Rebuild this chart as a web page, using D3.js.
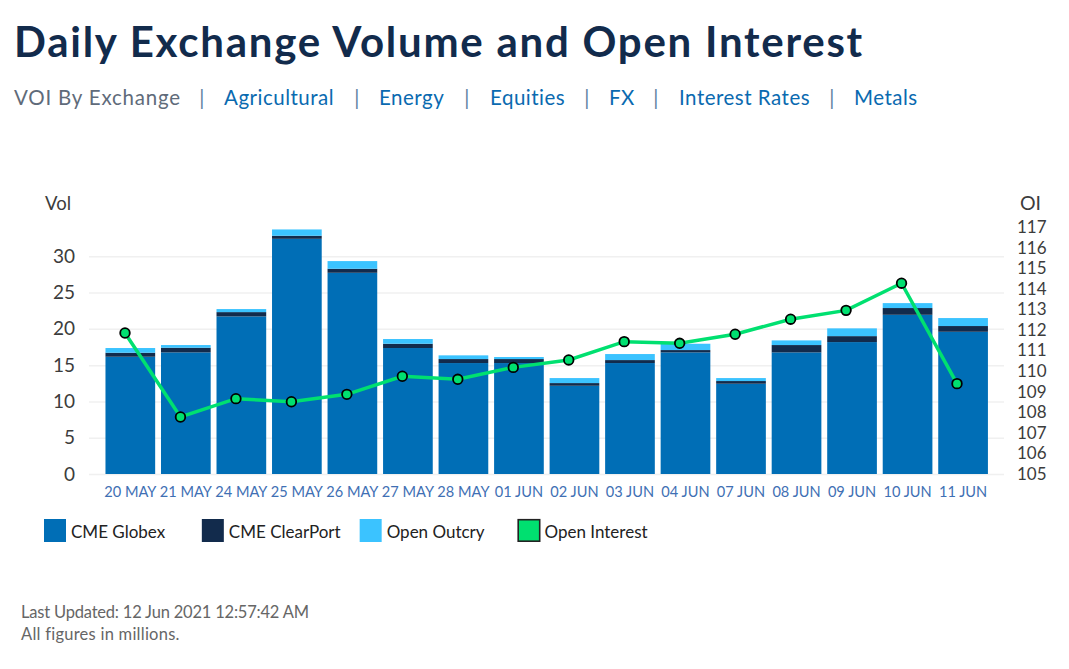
<!DOCTYPE html>
<html>
<head>
<meta charset="utf-8">
<script src="https://cdn.jsdelivr.net/npm/d3@7"></script>
<style>
  body { margin: 0; background: white; }
  svg { display: block; font-family: Lato, sans-serif; }
  .grid line { stroke: #f0f0f0; stroke-width: 1.5; }
  .grid path { display: none; }
  .axis path, .axis line { display: none; }
  .axis text { font-family: Lato, sans-serif; font-size: 19px; fill: #3c3c3c; }
  .oiaxis text { font-size: 17px; }
  .xaxis text { font-size: 14.6px; fill: #3f70b4; }
</style>
</head>
<body>
<div id="chart"></div>
<script>
const dates = ["20 MAY","21 MAY","24 MAY","25 MAY","26 MAY","27 MAY","28 MAY","01 JUN","02 JUN","03 JUN","04 JUN","07 JUN","08 JUN","09 JUN","10 JUN","11 JUN"];
const globex = [16.16,16.76,21.72,32.41,27.73,17.36,15.29,15.29,12.16,15.29,16.76,12.44,16.76,18.18,21.94,19.6];
const clearPort = [0.55,0.64,0.59,0.42,0.55,0.59,0.55,0.55,0.37,0.41,0.32,0.37,1.01,0.82,0.93,0.79];
const outcry = [0.65,0.37,0.42,0.87,1.06,0.65,0.51,0.28,0.69,0.83,0.87,0.41,0.64,1.07,0.68,1.1];
const openInterest = [111.85,107.77,108.66,108.51,108.87,109.75,109.6,110.18,110.54,111.43,111.35,111.79,112.52,112.95,114.27,109.39];

const volTicks = [0,5,10,15,20,25,30];
const oiTicks = [105,106,107,108,109,110,111,112,113,114,115,116,117];
const navItems = ["Agricultural","Energy","Equities","FX","Interest Rates","Metals"];
const seriesNames = ["CME Globex","CME ClearPort","Open Outcry"];
const seriesColors = ["#006eb6","#122b4c","#3bc3ff"];
const greenLine = "#00e070";

const width = 1069, height = 669;
const svg = d3.select("#chart").append("svg").attr("width", width).attr("height", height);

// header
svg.append("text").attr("x", 14).attr("y", 57)
  .attr("font-size", 42).attr("font-weight", 700).attr("letter-spacing", 1.75)
  .attr("fill", "#122b4c").text("Daily Exchange Volume and Open Interest");

const navX = [224,379,490,609,679,854];
const sepX = [202,357,467,587,656,832];
const nav = svg.append("g").attr("font-size", 20.5).attr("letter-spacing", 0.5);
nav.append("text").attr("x", 14).attr("y", 105).attr("letter-spacing", 0.8).attr("fill", "#5f6b7a").text("VOI By Exchange");
navItems.forEach((d, i) => {
  nav.append("text").attr("x", sepX[i]).attr("y", 105).attr("text-anchor", "middle").attr("fill", "#5f7f9f").text("|");
  nav.append("text").attr("x", navX[i]).attr("y", 105).attr("fill", "#0a6ab0").text(d);
});

// scales
const x = d3.scaleBand().domain(dates).range([102.7, 990.7]).paddingInner(0.105).paddingOuter(0.05);
const xLine = d3.scalePoint().domain(dates).range([125, 957]);
const y = d3.scaleLinear().domain([0, 30]).range([474, 256.3]);
const yOi = d3.scaleLinear().domain([105, 117]).range([474, 227]);

// gridlines
svg.append("g").attr("class", "grid")
  .attr("transform", "translate(89,0)")
  .call(d3.axisLeft(y).tickValues(volTicks).tickSize(-915).tickFormat(""));

// stacked bars
const rows = dates.map((d, i) => ({ date: d, g: globex[i], c: clearPort[i], o: outcry[i] }));
const stacked = d3.stack().keys(["g","c","o"])(rows);
svg.append("g").selectAll("g").data(stacked).join("g")
  .attr("fill", (d, i) => seriesColors[i])
  .selectAll("rect").data(d => d).join("rect")
  .attr("x", d => x(d.data.date))
  .attr("y", d => y(d[1]))
  .attr("width", x.bandwidth())
  .attr("height", d => y(d[0]) - y(d[1]));

// open interest line
const line = d3.line().x((d, i) => xLine(dates[i])).y(d => yOi(d));
svg.append("path").datum(openInterest)
  .attr("fill", "none").attr("stroke", greenLine).attr("stroke-width", 3.5)
  .attr("d", line);
svg.append("g").selectAll("circle").data(openInterest).join("circle")
  .attr("cx", (d, i) => xLine(dates[i]))
  .attr("cy", d => yOi(d))
  .attr("r", 4.8)
  .attr("fill", greenLine).attr("stroke", "#000").attr("stroke-width", 1.8);

// axes
svg.append("g").attr("class", "axis")
  .attr("transform", "translate(75,0)")
  .call(d3.axisLeft(y).tickValues(volTicks).tickSize(0).tickPadding(0));
svg.append("g").attr("class", "axis oiaxis")
  .attr("transform", "translate(1017,0)")
  .call(d3.axisRight(yOi).tickValues(oiTicks).tickSize(0).tickPadding(0));
svg.append("g").attr("class", "axis xaxis")
  .attr("transform", "translate(0,474)")
  .call(d3.axisBottom(x).tickSize(0).tickPadding(13));

svg.append("text").attr("x", 45).attr("y", 210).attr("font-size", 18.5).attr("fill", "#3c3c3c").text("Vol");
svg.append("text").attr("x", 1020).attr("y", 210).attr("font-size", 19.5).attr("fill", "#3c3c3c").text("OI");

// legend
const legendX = d3.scalePoint().domain([...seriesNames, "Open Interest"]).range([44, 517.5]);
const legend = svg.append("g").selectAll("g").data(legendX.domain()).join("g")
  .attr("transform", d => `translate(${legendX(d)},519)`);
legend.append("rect")
  .attr("width", (d, i) => i == 3 ? 21.5 : 22)
  .attr("height", (d, i) => i == 3 ? 21.5 : 23)
  .attr("x", (d, i) => i == 3 ? 0.7 : 0)
  .attr("y", (d, i) => i == 3 ? 0.7 : 0)
  .attr("fill", (d, i) => i == 3 ? greenLine : seriesColors[i])
  .attr("stroke", (d, i) => i == 3 ? "#222" : "none")
  .attr("stroke-width", 1.6);
legend.append("text").attr("x", 27).attr("y", 19)
  .attr("font-size", 17).attr("fill", "#222").text(d => d);

// footer
const footer = svg.append("g").attr("font-size", 16.5).attr("fill", "#666");
footer.append("text").attr("x", 21).attr("y", 618).attr("letter-spacing", -0.2).text("Last Updated: 12 Jun 2021 12:57:42 AM");
footer.append("text").attr("x", 21).attr("y", 640).attr("letter-spacing", 0.25).text("All figures in millions.");
</script>
</body>
</html>
